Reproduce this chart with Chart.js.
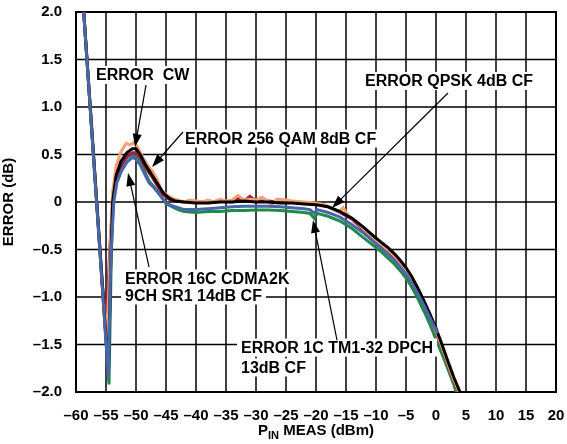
<!DOCTYPE html>
<html lang="en">
<head>
<meta charset="UTF-8" />
<title>Error vs P_IN</title>
<script src="https://cdn.jsdelivr.net/npm/chart.js"></script>
<style>
  html, body { margin: 0; padding: 0; background: #fff; }
</style>
</head>
<body>
<canvas id="errChart" width="567" height="444"></canvas>
<script>
// axis ticks
const xTicks = [-60, -55, -50, -45, -40, -35, -30, -25, -20, -15, -10, -5, 0, 5, 10, 15, 20];
const yTicks = [-2, -1.5, -1, -0.5, 0, 0.5, 1, 1.5, 2];
const yTickLabels = ['–2.0', '–1.5', '–1.0', '–0.5', '0', '0.5', '1.0', '1.5', '2.0'];

// series as [P_IN dBm, error dB]
const cwPts = [
  [-59.2, 2.45], [-54.6, -1.8], [-54.2, -0.6], [-53.9, 0.0], [-53.3, 0.28], [-52.5, 0.43],
  [-51.5, 0.52], [-50.6, 0.56], [-50.0, 0.56], [-49.3, 0.5], [-48.5, 0.4], [-47.5, 0.3],
  [-46.5, 0.2], [-45.5, 0.1], [-44.5, 0.04], [-43.5, 0.01], [-42, 0.0], [-40, -0.01],
  [-38, -0.01], [-36, 0.0], [-34, 0.0], [-32, 0.01], [-30, 0.0], [-28, 0.0], [-26, -0.01],
  [-24, -0.01], [-22, -0.02], [-20, -0.03], [-18, -0.05], [-16, -0.1], [-14, -0.17],
  [-12, -0.27], [-10, -0.38], [-9, -0.43], [-8, -0.48], [-7, -0.54], [-6, -0.61], [-5, -0.69],
  [-4, -0.79], [-3, -0.91], [-2, -1.04], [-1, -1.18], [0, -1.33], [1, -1.5], [2, -1.68],
  [3, -1.85], [4, -2.0], [4.6, -2.1]
];
const qam256Pts = [
  [-59.2, 2.45], [-55.4, -1.06], [-54.8, -1.4], [-54.2, -0.3], [-53.9, 0.1], [-53.3, 0.38],
  [-52.5, 0.53], [-51.6, 0.62], [-51.0, 0.6], [-50.3, 0.63], [-49.6, 0.56], [-48.8, 0.46],
  [-48.0, 0.38], [-47.2, 0.32], [-46.5, 0.24], [-45.8, 0.13], [-45, 0.08], [-44, 0.04],
  [-43, 0.02], [-42, 0.0], [-41, 0.02], [-40, 0.01], [-39, 0.0], [-38, 0.02], [-37, 0.0],
  [-36, 0.03], [-35, 0.01], [-34, 0.02], [-33, 0.07], [-32, 0.02], [-31, 0.03], [-30, 0.02],
  [-29, 0.05], [-28.2, 0.02], [-27.4, -0.03], [-26.5, 0.03], [-25, 0.02], [-24, 0.01],
  [-22, 0.0], [-20, -0.01], [-18.5, -0.03], [-17, -0.08], [-16.2, -0.11], [-15.5, -0.06],
  [-14.5, -0.15], [-13, -0.22], [-12, -0.29], [-10, -0.4], [-9, -0.455], [-8, -0.505],
  [-7, -0.565], [-6, -0.635], [-5, -0.715], [-4, -0.815], [-3, -0.935], [-2, -1.065],
  [-1, -1.205], [0, -1.355], [1, -1.525], [2, -1.705], [3, -1.875], [4, -2.025], [4.5, -2.12]
];
const qpskPts = [
  [-59.2, 2.45], [-55.6, -0.88], [-54.9, -1.2], [-54.3, -0.4], [-53.8, 0.0], [-53.2, 0.25],
  [-52.4, 0.4], [-51.4, 0.49], [-50.5, 0.52], [-49.9, 0.51], [-49.2, 0.46], [-48.4, 0.36],
  [-47.5, 0.28], [-46.5, 0.18], [-45.5, 0.08], [-44.5, 0.03], [-43.5, 0.01], [-42, 0.0],
  [-41, 0.01], [-40, 0.0], [-38, 0.0], [-36, 0.01], [-34, 0.0], [-33, 0.04], [-32, 0.01],
  [-31, 0.06], [-30, 0.01], [-28, 0.01], [-26, 0.0], [-24, 0.0], [-22, -0.01], [-20, -0.02],
  [-18, -0.05], [-16, -0.11], [-14, -0.18], [-12, -0.3], [-10, -0.41], [-9, -0.465],
  [-8, -0.515], [-7, -0.575], [-6, -0.645], [-5, -0.725], [-4, -0.825], [-3, -0.945],
  [-2, -1.075], [-1, -1.215], [0, -1.365], [1, -1.535], [2, -1.715], [3, -1.885],
  [4, -2.035], [4.5, -2.12]
];
const cdma2kPts = [
  [-59.2, 2.45], [-54.5, -1.92], [-54.1, -0.5], [-53.8, 0.0], [-53.3, 0.22], [-52.6, 0.36],
  [-51.6, 0.46], [-50.8, 0.5], [-50.2, 0.49], [-49.5, 0.44], [-48.7, 0.34], [-47.8, 0.22],
  [-47, 0.16], [-46, 0.08], [-45, -0.02], [-44, -0.05], [-43, -0.08], [-42, -0.1],
  [-40, -0.11], [-38, -0.1], [-36, -0.1], [-34, -0.09], [-32, -0.09], [-30, -0.085],
  [-28, -0.085], [-26, -0.09], [-24, -0.1], [-22, -0.11], [-21, -0.12], [-20.3, -0.17],
  [-19.8, -0.12], [-18, -0.15], [-16, -0.2], [-14, -0.28], [-12, -0.38], [-10, -0.48],
  [-9, -0.53], [-8, -0.59], [-7, -0.65], [-6, -0.72], [-5, -0.8], [-4, -0.9], [-3, -1.02],
  [-2, -1.15], [-1, -1.29], [0, -1.45], [1, -1.6], [2, -1.76], [3, -1.93], [3.6, -2.05],
  [4, -2.12]
];
const tm132Pts = [
  [-59.2, 2.45], [-54.6, -1.85], [-54.2, -0.6], [-53.7, 0.0], [-53.2, 0.2], [-52.4, 0.33],
  [-51.5, 0.42], [-50.6, 0.47], [-50.0, 0.45], [-49.3, 0.39], [-48.6, 0.3], [-47.8, 0.2],
  [-47, 0.15], [-46, 0.07], [-45, -0.01], [-44, -0.04], [-43, -0.06], [-42, -0.08],
  [-40, -0.08], [-38, -0.07], [-36, -0.06], [-34, -0.05], [-32, -0.045], [-30, -0.045],
  [-28, -0.045], [-26, -0.05], [-24, -0.06], [-22, -0.07], [-21, -0.08], [-20.3, -0.12],
  [-19.8, -0.08], [-18, -0.11], [-16, -0.16], [-14, -0.24], [-12, -0.33], [-10, -0.44],
  [-9, -0.49], [-8, -0.55], [-7, -0.61], [-6, -0.68], [-5, -0.76], [-4, -0.86], [-3, -0.97],
  [-2, -1.09], [-1, -1.22], [0.3, -1.38]
];

// callout labels and arrows, in data units
const noteLines = [
  { text: 'ERROR  CW', x: -56.67, y: 1.337 },
  { text: 'ERROR 256 QAM 8dB CF', x: -41.83, y: 0.668 },
  { text: 'ERROR QPSK 4dB CF', x: -11.83, y: 1.274 },
  { text: 'ERROR 16C CDMA2K', x: -51.83, y: -0.805 },
  { text: '9CH SR1 14dB CF', x: -51.83, y: -0.984 },
  { text: 'ERROR 1C TM1-32 DPCH', x: -32.5, y: -1.532 },
  { text: '13dB CF', x: -32.5, y: -1.742 }
];
const noteArrows = [
  { from: [-48.33, 1.23], to: [-50.17, 0.58] },
  { from: [-42.17, 0.737], to: [-47.33, 0.368] },
  { from: [2.0, 1.147], to: [-17.33, -0.063] },
  { from: [-47.83, -0.684], to: [-51.33, 0.305] },
  { from: [-16.5, -1.453], to: [-20.5, -0.189] }
];

const fontFam = '"Liberation Sans", Arial, sans-serif';
const labelFont = 'bold 16px ' + fontFam;
const tickFont = { family: fontFam, size: 15, weight: 'bold' };

const toXY = (pts) => pts.map((p) => ({ x: p[0], y: p[1] }));

function drawArrow(ctx, x0, y0, x1, y1) {
  const ang = Math.atan2(y1 - y0, x1 - x0);
  const len = 13, half = 4.5;
  const c = Math.cos(ang), s = Math.sin(ang);
  ctx.beginPath();
  ctx.moveTo(x0, y0);
  ctx.lineTo(x1 - c * len * 0.8, y1 - s * len * 0.8);
  ctx.stroke();
  ctx.beginPath();
  ctx.moveTo(x1, y1);
  ctx.lineTo(x1 - c * len - s * half, y1 - s * len + c * half);
  ctx.lineTo(x1 - c * len + s * half, y1 - s * len - c * half);
  ctx.closePath();
  ctx.fill();
}

const notesPlugin = {
  id: 'notes',
  afterDraw(chart) {
    const { ctx, scales, chartArea: a } = chart;
    const sx = scales.x, sy = scales.y;
    ctx.save();
    ctx.setLineDash([]);
    ctx.font = labelFont;
    ctx.textBaseline = 'middle';
    ctx.textAlign = 'left';
    noteLines.forEach((n) => {
      const px = sx.getPixelForValue(n.x);
      const py = sy.getPixelForValue(n.y);
      const w = ctx.measureText(n.text).width;
      ctx.fillStyle = '#fff';
      ctx.fillRect(px - 4, py - 9, w + 8, 18);
    });
    ctx.fillStyle = '#000';
    noteLines.forEach((n) => {
      ctx.fillText(n.text, sx.getPixelForValue(n.x), sy.getPixelForValue(n.y) + 1);
    });
    ctx.strokeStyle = '#000';
    ctx.lineWidth = 1.2;
    noteArrows.forEach((ar) => {
      drawArrow(ctx,
        sx.getPixelForValue(ar.from[0]), sy.getPixelForValue(ar.from[1]),
        sx.getPixelForValue(ar.to[0]), sy.getPixelForValue(ar.to[1]));
    });

    // x axis title with subscript
    const big = 'bold 15px ' + fontFam;
    const small = 'bold 11px ' + fontFam;
    ctx.font = big;
    const wP = ctx.measureText('P').width;
    const wRest = ctx.measureText(' MEAS (dBm)').width;
    ctx.font = small;
    const wSub = ctx.measureText('IN').width;
    let tx = (a.left + a.right) / 2 - (wP + wSub + wRest) / 2;
    const ty = 431;
    ctx.font = big;
    ctx.fillText('P', tx, ty);
    tx += wP;
    ctx.font = small;
    ctx.fillText('IN', tx, ty + 5);
    tx += wSub;
    ctx.font = big;
    ctx.fillText(' MEAS (dBm)', tx, ty);
    ctx.restore();
  }
};

function line(label, pts, color, order) {
  return {
    label: label,
    data: toXY(pts),
    borderColor: color,
    backgroundColor: color,
    borderWidth: 3,
    pointRadius: 0,
    tension: 0,
    clip: 0,
    order: order
  };
}

// grid and frame as plain line datasets built from the tick arrays, drawn underneath
const xFirst = xTicks[0], xLast = xTicks[xTicks.length - 1];
const yFirst = yTicks[0], yLast = yTicks[yTicks.length - 1];
function gridLine(pts, isEdge) {
  return {
    label: '',
    data: pts,
    borderColor: '#000',
    borderWidth: isEdge ? 2 : 1.5,
    borderCapStyle: 'square',
    pointRadius: 0,
    tension: 0,
    clip: false,
    order: 10
  };
}
const gridSets = [
  ...xTicks.map((v) => gridLine([{ x: v, y: yFirst }, { x: v, y: yLast }], v === xFirst || v === xLast)),
  ...yTicks.map((v) => gridLine([{ x: xFirst, y: v }, { x: xLast, y: v }], v === yFirst || v === yLast))
];

new Chart(document.getElementById('errChart'), {
  type: 'line',
  data: {
    datasets: [
      line('1C TM1-32 DPCH', tm132Pts, '#4767a8', 0),
      line('CW', cwPts, '#000000', 1),
      line('256 QAM 8dB CF', qam256Pts, '#f7a070', 2),
      line('QPSK 4dB CF', qpskPts, '#a8184a', 3),
      line('16C CDMA2K', cdma2kPts, '#1f8a4a', 4),
      ...gridSets
    ]
  },
  options: {
    responsive: false,
    animation: false,
    devicePixelRatio: 1,
    events: [],
    layout: { padding: { left: 0, top: 12, right: 11, bottom: 0 } },
    plugins: { legend: { display: false }, tooltip: { enabled: false } },
    scales: {
      x: {
        type: 'linear',
        min: -60,
        max: 20,
        afterBuildTicks: (s) => { s.ticks = xTicks.map((v) => ({ value: v })); },
        afterFit: (s) => { s.height = 52; s.paddingLeft = 0; s.paddingRight = 0; },
        ticks: {
          color: '#000',
          font: tickFont,
          padding: 7,
          maxRotation: 0,
          autoSkip: false,
          callback: (v) => (v < 0 ? '–' + (-v) : '' + v)
        },
        grid: { display: false },
        border: { display: false }
      },
      y: {
        min: -2,
        max: 2,
        afterBuildTicks: (s) => { s.ticks = yTicks.map((v) => ({ value: v })); },
        afterFit: (s) => { s.width = 76; s.paddingTop = 0; s.paddingBottom = 0; },
        ticks: {
          color: '#000',
          font: tickFont,
          padding: 6,
          callback: (v) => yTickLabels[yTicks.indexOf(v)]
        },
        grid: { display: false },
        border: { display: false },
        title: {
          display: true,
          text: 'ERROR (dB)',
          color: '#000',
          font: { family: fontFam, size: 15, weight: 'bold' },
          padding: { top: 0, bottom: 0 }
        }
      }
    }
  },
  plugins: [notesPlugin]
});
</script>
</body>
</html>
